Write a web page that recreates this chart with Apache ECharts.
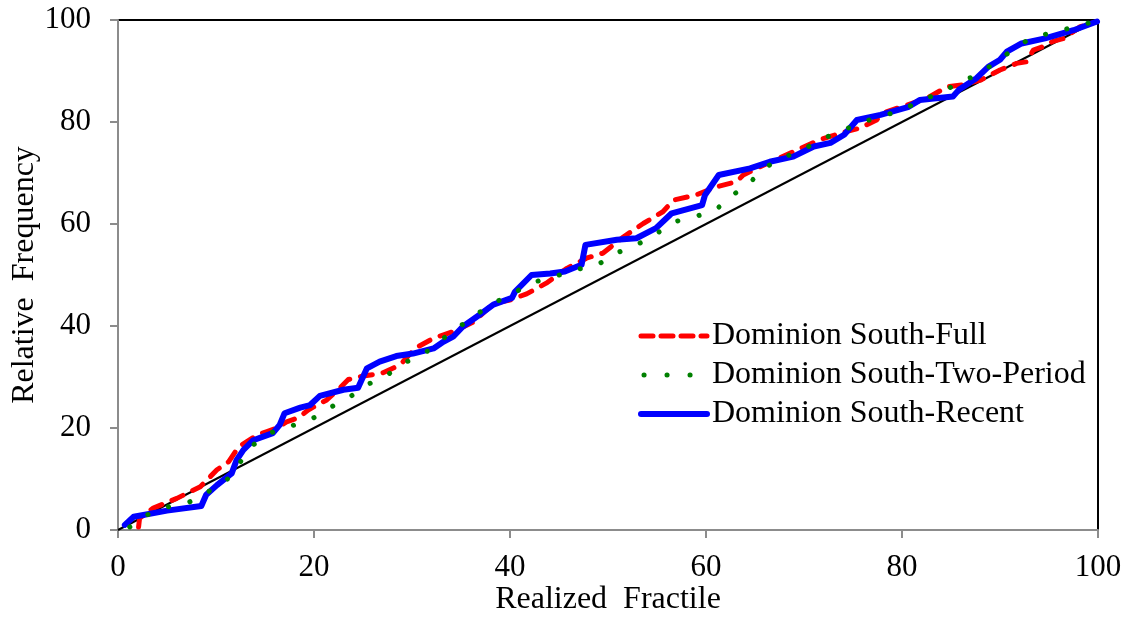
<!DOCTYPE html>
<html>
<head>
<meta charset="utf-8">
<script src="https://cdn.jsdelivr.net/npm/echarts@6/dist/echarts.min.js"></script>
<style>
html,body{margin:0;padding:0;background:#fff;}
#chart{width:1130px;height:617px;}
</style>
</head>
<body>
<div id="chart"></div>
<script>
var xTicks = [0, 20, 40, 60, 80, 100];
var yTicks = [0, 20, 40, 60, 80, 100];
var seriesNames = ['Dominion South-Full', 'Dominion South-Two-Period', 'Dominion South-Recent'];

var diagonal = [[0, 0], [100, 100]];

var fullData = [[2.1,0.6],[2.2,2.3],[3.6,4.3],[6.0,6.2],[8.4,8.5],[10.1,11.8],[11.3,13.4],[12.3,16.3],[14.2,18.6],[15.2,19.3],[16.2,20.0],[17.2,21.2],[18.4,22.0],[19.4,23.5],[20.3,24.5],[21.3,25.5],[22.5,27.6],[23.5,29.5],[25.0,30.2],[26.9,30.7],[28.8,32.4],[30.3,35.6],[32.2,37.6],[34.2,38.9],[36.3,40.8],[38.3,44.4],[40.0,45.1],[41.7,46.3],[43.7,48.4],[45.8,51.3],[47.8,53.3],[49.5,54.3],[51.6,57.5],[53.6,60.1],[55.6,62.4],[56.7,64.7],[59.0,65.7],[61.1,67.3],[63.1,68.3],[63.8,69.6],[65.5,71.2],[69.3,74.5],[71.6,76.5],[73.7,77.8],[75.7,78.8],[77.4,80.4],[78.4,82.0],[82.5,84.6],[84.6,86.9],[86.3,87.3],[88.0,88.2],[90.0,90.2],[91.7,91.5],[92.7,91.8],[93.4,94.1],[94.4,94.8],[95.4,95.8],[96.5,96.4],[98.2,98.7],[99.9,99.7]];

var twoPeriodData = [[1.2,0.6],[3,3],[5,4.5],[7.3,5.5],[9.2,7.5],[11.1,9.8],[12.4,13.1],[13.8,16.7],[15.5,19.0],[17.7,20.4],[19.8,21.8],[21.5,23.9],[23.4,25.7],[25.3,28.4],[27.3,30.1],[29.1,32.7],[31.2,34.5],[33.0,37.3],[34.8,39.8],[36.5,42.2],[38.3,44.5],[40.2,46.2],[42.0,48.4],[44.3,49.5],[46.5,51.0],[48.8,51.8],[50.6,54.1],[52.8,55.8],[54.7,57.7],[56.5,60.3],[58.8,61.4],[61.0,62.7],[62.3,65.2],[64.2,67.5],[65.7,70.6],[67.6,72.9],[69.8,74.4],[71.6,76.6],[73.6,77.9],[75.4,79.7],[77.8,81.0],[80.0,82.4],[81.8,84.0],[83.9,85.8],[85.9,87.7],[88.1,89.7],[89.8,92.1],[91.5,94.4],[93.3,96.7],[95.5,97.5],[97.8,98.8],[99.9,99.8]];

var recentData = [[0.7,1.0],[1.6,2.6],[5.0,3.8],[8.5,4.7],[9.0,6.9],[10.1,8.8],[11.6,11.1],[12.1,13.7],[12.8,15.7],[13.8,17.6],[15.8,19.0],[16.5,20.6],[17.0,22.9],[18.6,24.0],[19.6,24.5],[20.6,26.3],[23.0,27.5],[24.5,27.9],[25.4,31.7],[26.7,33.0],[28.4,34.1],[30.1,34.6],[32.2,35.6],[33.2,36.9],[34.2,37.9],[35.2,39.9],[36.9,42.2],[38.3,44.2],[40.2,45.5],[40.5,46.7],[42.2,50.0],[44.1,50.3],[45.6,50.7],[47.3,52.0],[47.7,55.9],[50.9,56.9],[52.9,57.2],[54.9,59.2],[56.5,62.1],[59.6,63.7],[59.9,65.7],[61.3,69.6],[64.5,70.9],[66.5,72.2],[68.9,73.2],[71.0,75.2],[72.7,75.9],[74.1,77.5],[75.4,80.4],[77.8,81.4],[80.6,82.9],[81.8,84.3],[85.2,85.0],[85.8,86.3],[87.6,88.6],[88.8,90.8],[90.0,92.2],[90.7,93.8],[92.2,95.4],[94.6,96.4],[97.5,98.0],[99.9,99.7]];

var FONT = '"Liberation Serif", "Times New Roman", serif';
var chart = echarts.init(document.getElementById('chart'), null, {renderer: 'canvas'});
var axisCommon = {
  type: 'value', min: 0, max: 100, interval: 20,
  axisLine: {show: true, lineStyle: {color: '#8c8c8c', width: 2}},
  axisTick: {show: true, inside: false, length: 8, lineStyle: {color: '#8c8c8c', width: 2}},
  splitLine: {show: false},
  nameLocation: 'middle',
  nameMoveOverlap: false,
  nameTextStyle: {fontFamily: FONT, fontSize: 32, color: '#000'}
};
var fullLine = {color: '#ff0000', width: 5, type: [12, 11], cap: 'round', join: 'round'};
var twoLine = {color: '#008000', width: 5, type: [0.1, 21.9], cap: 'round', join: 'round'};
var recentLine = {color: '#0000ff', width: 6, cap: 'round', join: 'round'};
chart.setOption({
  animation: false,
  backgroundColor: '#fff',
  grid: {left: 118, right: 32, top: 20, bottom: 87, show: true, borderColor: '#000', borderWidth: 2,
    backgroundColor: 'transparent', containLabel: false, outerBoundsMode: 'none'},
  legend: {
    data: [
      {name: seriesNames[0], lineStyle: {color: '#ff0000', width: 5, type: [12, 8], cap: 'round'}},
      {name: seriesNames[1], lineStyle: {color: '#008000', width: 5, type: [0.1, 22.9], dashOffset: -3, cap: 'round'}},
      {name: seriesNames[2], lineStyle: {color: '#0000ff', width: 6, cap: 'round'}}
    ],
    orient: 'vertical',
    left: 633, top: 315,
    itemWidth: 66, itemHeight: 6, itemGap: 7,
    itemStyle: {opacity: 0},
    textStyle: {fontFamily: FONT, fontSize: 32, color: '#000', lineHeight: 32}
  },
  xAxis: Object.assign({}, axisCommon, {
    name: 'Realized  Fractile', nameGap: 54,
    axisLabel: {fontFamily: FONT, fontSize: 31, color: '#000', margin: 22,
      formatter: function (v) { return xTicks.indexOf(v) >= 0 ? String(v) : ''; }}
  }),
  yAxis: Object.assign({}, axisCommon, {
    name: 'Relative  Frequency', nameGap: 77,
    axisLabel: {fontFamily: FONT, fontSize: 31, color: '#000', margin: 27,
      formatter: function (v) { return yTicks.indexOf(v) >= 0 ? String(v) : ''; }}
  }),
  series: [
    {name: 'diag', type: 'line', data: diagonal, showSymbol: false, symbol: 'none', silent: true,
      lineStyle: {color: '#000', width: 2}, z: 1},
    {name: seriesNames[0], type: 'line', data: fullData, showSymbol: false, symbol: 'none',
      itemStyle: {color: '#ff0000'}, lineStyle: fullLine, z: 2},
    {name: seriesNames[2], type: 'line', data: recentData, showSymbol: false, symbol: 'none',
      itemStyle: {color: '#0000ff'}, lineStyle: recentLine, z: 3},
    {name: seriesNames[1], type: 'line', data: twoPeriodData, showSymbol: false, symbol: 'none',
      itemStyle: {color: '#008000'}, lineStyle: twoLine, z: 4}
  ]
});
</script>
</body>
</html>
